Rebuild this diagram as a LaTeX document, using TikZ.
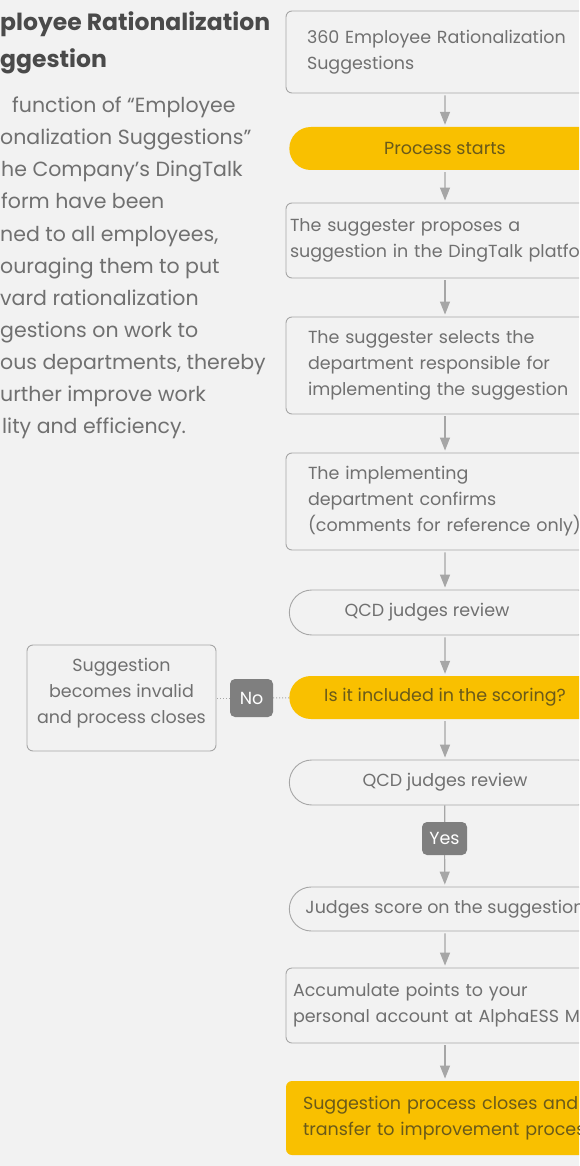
\documentclass[tikz,border=0pt]{standalone}
\usepackage{fontspec}
\setmainfont{Poppins}
\usetikzlibrary{arrows.meta,shapes.misc}
\definecolor{pagegray}{HTML}{F2F2F2}
\definecolor{linegray}{HTML}{A6A6A6}
\definecolor{textgray}{HTML}{707070}
\definecolor{titlegray}{HTML}{4A4A4A}
\definecolor{taggray}{HTML}{7F7F7F}
\definecolor{flowyellow}{HTML}{F9C000}
\definecolor{yellowtext}{HTML}{6A5A1A}
\tikzset{
	box/.style={rectangle, draw=linegray, line width=0.9pt, rounded corners=6pt, minimum width=318pt, text=textgray, font=\fontsize{17.5}{26}\selectfont, align=left, inner ysep=0pt},
	pill/.style={rounded rectangle, draw=linegray, line width=0.9pt, minimum width=318pt, minimum height=45pt, text=textgray, font=\fontsize{17.5}{26}\selectfont, align=center},
	gopill/.style={rounded rectangle, fill=flowyellow, minimum width=318pt, minimum height=43pt, text=yellowtext, font=\fontsize{17.5}{26}\selectfont, align=center},
	tag/.style={rectangle, fill=taggray, rounded corners=5pt, text=white, font=\fontsize{17.5}{20}\selectfont, inner sep=0pt},
	intro/.style={anchor=base west, inner sep=0pt, text=textgray, font=\fontsize{20.5}{32}\selectfont},
	headline/.style={anchor=base west, inner sep=0pt, text=titlegray, font=\fontsize{23.5}{32}\selectfont\bfseries},
	arr/.style={draw=linegray, line width=1.2pt, -{Triangle[width=10pt,length=13pt]}, shorten <=2pt, shorten >=2pt},
	dots/.style={draw=linegray, line width=1pt, dotted}
}

\begin{document}
\begin{tikzpicture}[x=1pt,y=-1pt]
			%%%%% START %%%%%
			
			\useasboundingbox (0,0) rectangle (579,1166);
			\fill[pagegray] (0,0) rectangle (579,1166);
			\clip (0,0) rectangle (579,1166);
			
			% intro text on the left
			\node[headline] (title1) at (0, 31) {ployee Rationalization};
			\node[headline] (title2) at (0, 68) {ggestion};
			
			\node[intro] (line1) at (12, 113) {function of “Employee};
			\node[intro] (line2) at (0, 145) {onalization Suggestions”};
			\node[intro] (line3) at (1, 177) {he Company’s DingTalk};
			\node[intro] (line4) at (1, 209) {form have been};
			\node[intro] (line5) at (0, 241) {ned to all employees,};
			\node[intro] (line6) at (0, 273) {ouraging them to put};
			\node[intro] (line7) at (0, 305) {vard rationalization};
			\node[intro] (line8) at (0, 337) {gestions on work to};
			\node[intro] (line9) at (0, 369) {ous departments, thereby};
			\node[intro] (line10) at (0, 401) {urther improve work};
			\node[intro] (line11) at (2, 433) {lity and efficiency.};
			
			% main column
			\node[box, minimum height=82pt, inner xsep=21pt, text width=276pt] (source) at (445, 52) {360 Employee Rationalization\\Suggestions};
			\node[gopill] (start) at (445, 148.5) {Process starts};
			\node[box, minimum height=75pt, inner xsep=4pt, text width=310pt] (propose) at (445, 240.5) {The suggester proposes a\\\mbox{suggestion in the DingTalk platform}};
			\node[box, minimum height=97pt, inner xsep=22pt, text width=274pt] (select) at (445, 365.5) {The suggester selects the\\department responsible for\\implementing the suggestion};
			\node[box, minimum height=97pt, inner xsep=22pt, text width=274pt] (confirm) at (445, 501.5) {The implementing\\department confirms\\(comments for reference only)};
			\node[pill] (review1) at (445, 612.5) {QCD judges review\hspace*{36pt}};
			\node[gopill] (decide) at (445, 697.5) {Is it included in the scoring?};
			\node[pill] (review2) at (445, 782.5) {QCD judges review};
			\node[pill, minimum height=44pt] (score) at (445, 909) {Judges score on the suggestion};
			\node[box, minimum height=75pt, inner xsep=7pt, text width=304pt] (points) at (445, 1005.5) {Accumulate points to your\\\mbox{personal account at AlphaESS Mall}};
			\node[box, draw=none, fill=flowyellow, text=yellowtext, minimum height=74pt, inner xsep=17pt, text width=284pt] (finish) at (445, 1118) {Suggestion process closes and\\\mbox{transfer to improvement process}};
			
			% branch to the left
			\node[box, minimum width=189pt, minimum height=106pt] (invalid) at (121.5, 698) {};
			\node[text=textgray, font=\fontsize{17.5}{26}\selectfont, align=center, inner sep=0pt] (invalidtext) at (121.5, 693.5) {Suggestion\\becomes invalid\\and process closes};
			\node[tag, minimum width=43pt, minimum height=38pt] (no) at (251.5, 698) {No};
			\node[tag, minimum width=45pt, minimum height=33pt] (yes) at (444.5, 838.5) {Yes};
			
			% connectors
			\draw[arr] (source) -- (start);
			\draw[arr] (start) -- (propose);
			\draw[arr] (propose) -- (select);
			\draw[arr] (select) -- (confirm);
			\draw[arr] (confirm) -- (review1);
			\draw[arr] (review1) -- (decide);
			\draw[arr] (decide) -- (review2);
			\draw[draw=linegray, line width=1.2pt] (review2) -- (yes);
			\draw[arr, shorten <=0pt] (yes) -- (score);
			\draw[arr] (score) -- (points);
			\draw[arr] (points) -- (finish);
			\draw[dots] (decide) -- (no);
			\draw[dots] (no) -- (invalid);
			
			%%%%% END %%%%%
\end{tikzpicture}
\end{document}
